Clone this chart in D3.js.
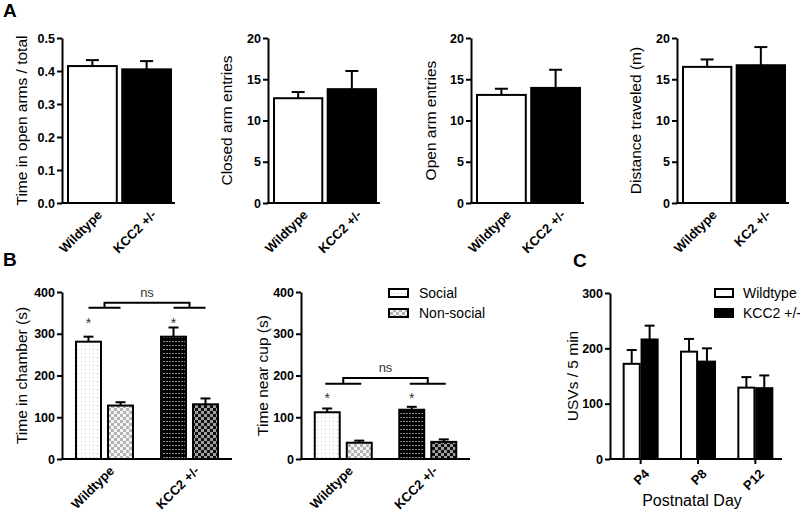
<!DOCTYPE html>
<html><head><meta charset="utf-8">
<script src="https://cdn.jsdelivr.net/npm/d3@7"></script>
<style>
body{margin:0;background:#fff;}
svg{display:block;font-family:"Liberation Sans",Arial,sans-serif;}
</style></head>
<body>
<script>
// ---------------- DATA ----------------
const genotypes = ["Wildtype", "KCC2 +/-"];
const genotypesA4 = ["Wildtype", "KC2 +/-"];
const openTimeMean = [0.415, 0.405];
const openTimeSem = [0.018, 0.025];
const closedEntriesMean = [12.7, 13.8];
const closedEntriesSem = [0.75, 2.2];
const openEntriesMean = [13.1, 13.95];
const openEntriesSem = [0.75, 2.2];
const distanceMean = [16.5, 16.7];
const distanceSem = [0.9, 2.2];
const ticksA1 = [0, 0.1, 0.2, 0.3, 0.4, 0.5];
const ticksA = [0, 5, 10, 15, 20];

const socialSeries = ["Social", "Non-social"];
const chamberSocial = [281, 293];
const chamberSocialSem = [12, 22];
const chamberNonSocial = [128, 131];
const chamberNonSocialSem = [8, 14];
const cupSocial = [112, 118];
const cupSocialSem = [9, 7];
const cupNonSocial = [39, 41];
const cupNonSocialSem = [5, 6];
const ticksB = [0, 100, 200, 300, 400];
// annotation levels (data units): [bracket top, bracket arms, star baseline]
const chamberAnnot = [374, 362, 314];
const cupAnnot = [194, 180, 133];

const days = ["P4", "P8", "P12"];
const usvSeries = ["Wildtype", "KCC2 +/-"];
const usvWildtype = [172, 194, 129];
const usvWildtypeSem = [25, 23, 19];
const usvKCC2 = [216, 176, 128];
const usvKCC2Sem = [25, 24, 23];
const ticksC = [0, 100, 200, 300];

// ---------------- DRAW ----------------
const W = 800, H = 515;
const svg = d3.select("body").append("svg").attr("width", W).attr("height", H);
const FONT = '"Liberation Sans",Arial,sans-serif';

// patterns
const defs = svg.append("defs");
function pat(id, w, h, bg, cells, col) {
  const p = defs.append("pattern").attr("id", id).attr("patternUnits", "userSpaceOnUse")
    .attr("width", w).attr("height", h);
  p.append("rect").attr("width", w).attr("height", h).attr("fill", bg);
  cells.forEach(c => p.append("rect").attr("x", c[0]).attr("y", c[1]).attr("width", c[2]).attr("height", c[3]).attr("fill", col));
}
pat("dotsLight", 4, 4, "#ffffff", [[1, 1, 1, 1]], "#c4c4c4");
pat("dotsDark", 3, 4, "#000000", [[1, 1, 2, 1]], "#8c8c8c");
pat("checkLight", 6, 6, "#f4f4f4", [[0, 0, 3, 3], [3, 3, 3, 3]], "#b4b4b4");
pat("checkDark", 6, 6, "#111111", [[0, 0, 3, 3], [3, 3, 3, 3]], "#a0a0a0");

function yAxis(g, x0, y, ticks, fmt) {
  const ax = g.append("g").attr("transform", `translate(${x0},0)`)
    .call(d3.axisLeft(y).tickValues(ticks).tickFormat(fmt).tickSize(5).tickSizeOuter(0).tickPadding(2));
  ax.select(".domain").attr("stroke", "#000").attr("stroke-width", 2);
  ax.selectAll(".tick line").attr("stroke", "#000").attr("stroke-width", 2);
  ax.selectAll(".tick text").attr("font-family", FONT).attr("font-size", 12.5)
    .attr("font-weight", "bold").attr("fill", "#000");
}
function yLabel(g, x, yc, txt) {
  g.append("text").attr("transform", `translate(${x},${yc}) rotate(-90)`)
    .attr("text-anchor", "middle").attr("dominant-baseline", "central")
    .attr("font-family", FONT).attr("font-size", 15.5).attr("fill", "#000").text(txt);
}
function xBase(g, x0, x1, yv) {
  g.append("line").attr("x1", x0 - 1).attr("x2", x1).attr("y1", yv).attr("y2", yv)
    .attr("stroke", "#000").attr("stroke-width", 2);
}
function xLabel(g, cx, yv, txt) {
  g.append("text").attr("transform", `translate(${cx + 4},${yv + 6}) rotate(-45)`)
    .attr("text-anchor", "end").attr("dy", "0.71em")
    .attr("font-family", FONT).attr("font-size", 13).attr("font-weight", "bold")
    .attr("fill", "#000").text(txt);
}
function errBar(g, cx, yTop, yErr, cap) {
  g.append("line").attr("x1", cx).attr("x2", cx).attr("y1", yTop).attr("y2", yErr)
    .attr("stroke", "#000").attr("stroke-width", 2);
  g.append("line").attr("x1", cx - cap / 2).attr("x2", cx + cap / 2).attr("y1", yErr).attr("y2", yErr)
    .attr("stroke", "#000").attr("stroke-width", 2);
}

// ---- Panel A ----
const panelsA = [
  {x0: 62, x1: 175, lx: 21, cats: genotypes, mean: openTimeMean, sem: openTimeSem, dom: [0, 0.5], ticks: ticksA1, fmt: d3.format(".1f"), label: "Time in open arms / total"},
  {x0: 268, x1: 380, lx: 226, cats: genotypes, mean: closedEntriesMean, sem: closedEntriesSem, dom: [0, 20], ticks: ticksA, fmt: d3.format("d"), label: "Closed arm entries"},
  {x0: 471, x1: 584, lx: 430, cats: genotypes, mean: openEntriesMean, sem: openEntriesSem, dom: [0, 20], ticks: ticksA, fmt: d3.format("d"), label: "Open arm entries"},
  {x0: 677, x1: 789, lx: 635, cats: genotypesA4, mean: distanceMean, sem: distanceSem, dom: [0, 20], ticks: ticksA, fmt: d3.format("d"), label: "Distance traveled (m)"}
];
panelsA.forEach(p => {
  const g = svg.append("g");
  const y = d3.scaleLinear().domain(p.dom).range([203, 38]);
  const x = d3.scaleBand().domain(p.cats).range([p.x0 + 6, p.x1 - 4]).paddingInner(0.1);
  const bw = x.bandwidth();
  p.cats.forEach((c, i) => {
    const cx = x(c) + bw / 2;
    errBar(g, cx, y(p.mean[i]), y(p.mean[i] + p.sem[i]), 13);
    g.append("rect").attr("x", x(c)).attr("y", y(p.mean[i])).attr("width", bw)
      .attr("height", y(0) - y(p.mean[i])).attr("fill", i === 0 ? "#fff" : "#000")
      .attr("stroke", "#000").attr("stroke-width", 2);
    xLabel(g, cx, y(0), c);
  });
  xBase(g, p.x0, p.x1, y(0));
  yAxis(g, p.x0, y, p.ticks, p.fmt);
  yLabel(g, p.lx, (y(0) + y(p.dom[1])) / 2, p.label);
});

// ---- Panel B ----
const fills = [["url(#dotsLight)", "url(#checkLight)"], ["url(#dotsDark)", "url(#checkDark)"]];
const panelsB = [
  {x0: 62, x1: 232, lx: 21, soc: chamberSocial, socS: chamberSocialSem, non: chamberNonSocial, nonS: chamberNonSocialSem, annot: chamberAnnot, arm: 16, label: "Time in chamber (s)"},
  {x0: 301, x1: 470, lx: 262, soc: cupSocial, socS: cupSocialSem, non: cupNonSocial, nonS: cupNonSocialSem, annot: cupAnnot, arm: 18, label: "Time near cup (s)"}
];
panelsB.forEach(p => {
  const g = svg.append("g");
  const y = d3.scaleLinear().domain([0, 400]).range([459, 292]);
  const xg = d3.scalePoint().domain(genotypes).range([p.x0, p.x1]).padding(0.5);
  const xs = d3.scaleBand().domain(socialSeries).range([-28.5, 28.5]).paddingInner(0.22);
  const bw = xs.bandwidth();
  genotypes.forEach((c, i) => {
    const vals = [p.soc[i], p.non[i]], sems = [p.socS[i], p.nonS[i]];
    socialSeries.forEach((s, j) => {
      const bx = xg(c) + xs(s);
      errBar(g, bx + bw / 2, y(vals[j]), y(vals[j] + sems[j]), 10);
      g.append("rect").attr("x", bx).attr("y", y(vals[j])).attr("width", bw)
        .attr("height", y(0) - y(vals[j])).attr("fill", fills[i][j])
        .attr("stroke", "#000").attr("stroke-width", 2);
    });
    // star over social bar
    g.append("text").attr("x", xg(c) + xs("Social") + bw / 2).attr("y", y(p.annot[2]))
      .attr("text-anchor", "middle").attr("font-family", FONT).attr("font-size", 14)
      .attr("fill", "#333").text("*");
    xLabel(g, xg(c), y(0), c);
  });
  // bracket
  const c0 = xg(genotypes[0]), c1 = xg(genotypes[1]);
  const yt = y(p.annot[0]), ya = y(p.annot[1]);
  g.append("path").attr("d", `M${c0},${ya}V${yt}H${c1}V${ya}`).attr("fill", "none")
    .attr("stroke", "#000").attr("stroke-width", 2);
  [c0, c1].forEach(c => g.append("line").attr("x1", c - p.arm).attr("x2", c + p.arm)
    .attr("y1", ya).attr("y2", ya).attr("stroke", "#000").attr("stroke-width", 2));
  g.append("text").attr("x", (c0 + c1) / 2).attr("y", yt - 6).attr("text-anchor", "middle")
    .attr("font-family", FONT).attr("font-size", 13).attr("fill", "#333").text("ns");
  xBase(g, p.x0, p.x1, y(0));
  yAxis(g, p.x0, y, ticksB, d3.format("d"));
  yLabel(g, p.lx, (y(0) + y(400)) / 2, p.label);
});
// legend B
socialSeries.forEach((s, j) => {
  const ly = 289 + j * 20;
  svg.append("rect").attr("x", 389).attr("y", ly).attr("width", 19).attr("height", 8)
    .attr("fill", fills[0][j]).attr("stroke", "#000").attr("stroke-width", 2);
  svg.append("text").attr("x", 419).attr("y", ly + 8.5).attr("font-family", FONT)
    .attr("font-size", 14).attr("fill", "#000").text(s);
});

// ---- Panel C ----
{
  const g = svg.append("g");
  const x0 = 610, x1 = 782;
  const y = d3.scaleLinear().domain([0, 300]).range([459, 293]);
  const xg = d3.scalePoint().domain(days).range([612, 784]).padding(0.5);
  const xs = d3.scaleBand().domain(usvSeries).range([-17, 17]).paddingInner(0.1);
  const bw = xs.bandwidth();
  const vals = [usvWildtype, usvKCC2], sems = [usvWildtypeSem, usvKCC2Sem];
  days.forEach((d, i) => {
    usvSeries.forEach((s, j) => {
      const bx = xg(d) + xs(s);
      errBar(g, bx + bw / 2, y(vals[j][i]), y(vals[j][i] + sems[j][i]), 10);
      g.append("rect").attr("x", bx).attr("y", y(vals[j][i])).attr("width", bw)
        .attr("height", y(0) - y(vals[j][i])).attr("fill", j === 0 ? "#fff" : "#000")
        .attr("stroke", "#000").attr("stroke-width", 2);
    });
    g.append("line").attr("x1", xg(d)).attr("x2", xg(d)).attr("y1", y(0)).attr("y2", y(0) + 5)
      .attr("stroke", "#000").attr("stroke-width", 2);
    xLabel(g, xg(d) - 1, y(0) + 3, d);
  });
  xBase(g, x0, x1, y(0));
  yAxis(g, x0, y, ticksC, d3.format("d"));
  yLabel(g, 572, (y(0) + y(300)) / 2, "USVs / 5 min");
  g.append("text").attr("x", 692).attr("y", 506).attr("text-anchor", "middle")
    .attr("font-family", FONT).attr("font-size", 16).attr("fill", "#000").text("Postnatal Day");
  usvSeries.forEach((s, j) => {
    const ly = 289 + j * 20;
    g.append("rect").attr("x", 715).attr("y", ly).attr("width", 18).attr("height", 8)
      .attr("fill", j === 0 ? "#fff" : "#000").attr("stroke", "#000").attr("stroke-width", 2);
    g.append("text").attr("x", 743).attr("y", ly + 8.5).attr("font-family", FONT)
      .attr("font-size", 14).attr("fill", "#000").text(s);
  });
}

// panel letters
[["A", 3, 17], ["B", 3, 266], ["C", 573, 267]].forEach(([t, x, yv]) =>
  svg.append("text").attr("x", x).attr("y", yv).attr("font-family", FONT)
    .attr("font-size", 19).attr("font-weight", "bold").attr("fill", "#000").text(t));
</script>
</body></html>
